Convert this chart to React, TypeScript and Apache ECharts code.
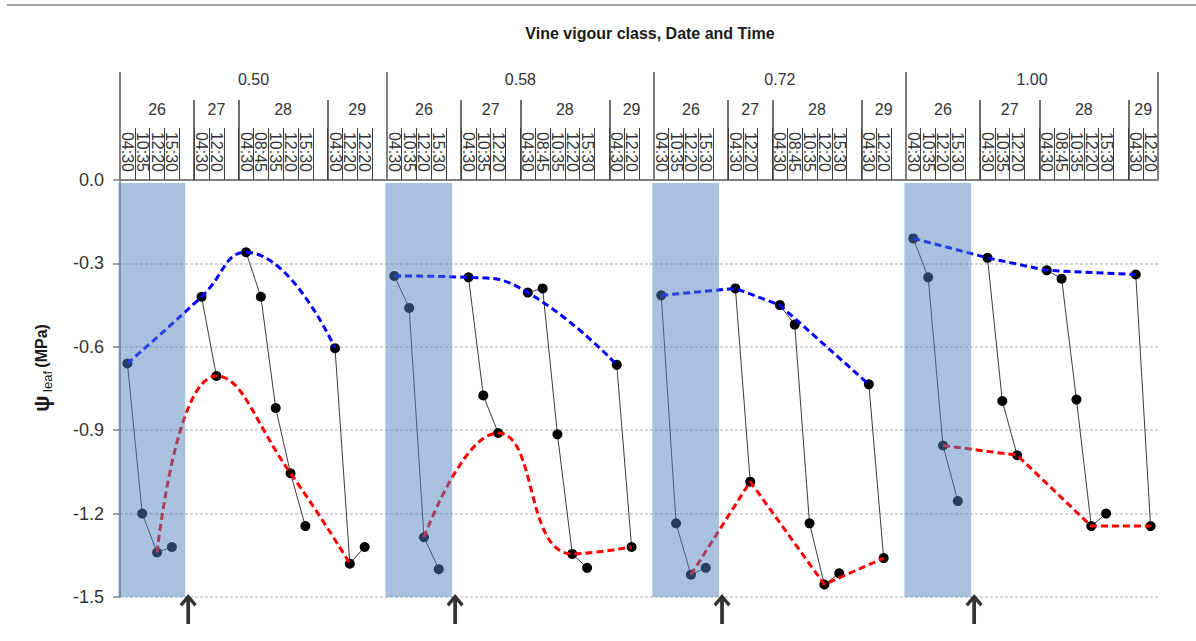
import * as echarts from 'echarts';
import { useEffect, useRef } from 'react';

const vigourClasses = ['0.50', '0.58', '0.72', '1.00'];
const days = ['26', '27', '28', '29'];
const shadedDay = '26';

// measurement times, one list per day
const times050 = [
    ['04:30', '10:35', '12:20', '15:30'],
    ['04:30', '12:20'],
    ['04:30', '08:45', '10:35', '12:20', '15:30'],
    ['04:30', '12:20', '12:20'],
];
const times058 = [
    ['04:30', '10:35', '12:20', '15:30'],
    ['04:30', '10:35', '12:20'],
    ['04:30', '08:45', '10:35', '12:20', '15:30'],
    ['04:30', '12:20'],
];
const times072 = [
    ['04:30', '10:35', '12:20', '15:30'],
    ['04:30', '12:20'],
    ['04:30', '08:45', '10:35', '12:20', '15:30'],
    ['04:30', '12:20'],
];
const times100 = [
    ['04:30', '10:35', '12:20', '15:30'],
    ['04:30', '10:35', '12:20'],
    ['04:30', '08:45', '10:35', '12:20', '15:30'],
    ['04:30', '12:20'],
];

// leaf water potential (MPa), same shape as the time lists
const psi050 = [
    [-0.66, -1.2, -1.34, -1.32],
    [-0.42, -0.705],
    [-0.26, -0.42, -0.82, -1.055, -1.245],
    [-0.605, -1.38, -1.32],
];
const psi058 = [
    [-0.345, -0.46, -1.285, -1.4],
    [-0.35, -0.775, -0.91],
    [-0.405, -0.39, -0.915, -1.345, -1.395],
    [-0.665, -1.32],
];
const psi072 = [
    [-0.415, -1.235, -1.42, -1.395],
    [-0.39, -1.085],
    [-0.45, -0.52, -1.235, -1.455, -1.415],
    [-0.735, -1.36],
];
const psi100 = [
    [-0.21, -0.35, -0.955, -1.155],
    [-0.28, -0.795, -0.99],
    [-0.325, -0.355, -0.79, -1.245, -1.2],
    [-0.34, -1.245],
];

const classTimes = [times050, times058, times072, times100];
const classPsi = [psi050, psi058, psi072, psi100];
const smoothClass = [true, true, false, false];

const FONT = "'Liberation Sans', Arial, sans-serif";

// lay the columns out: one per measurement, one empty column after each day
const columns: { time: string; value: number | null }[] = [];
const dayTicks = new Set<number>();
const classTicks = new Set<number>();
const dayLabelAt: [number, string][] = [];
const classLabelAt: [number, string][] = [];
const predawn: [number, number][][] = [];
const midday: [number, number][][] = [];
const shadeStarts: [number, number][] = [];

classTimes.forEach((dayTimes, ci) => {
    const classStart = columns.length;
    classTicks.add(classStart * 2);
    const pd: [number, number][] = [];
    const md: [number, number][] = [];
    dayTimes.forEach((times, di) => {
        const dayStart = columns.length;
        dayTicks.add(dayStart * 2);
        const noon = times.indexOf('12:20');
        times.forEach((t, ti) => {
            const v = classPsi[ci][di][ti];
            if (ti === 0) pd.push([columns.length, v]);
            if (ti === noon) md.push([columns.length, v]);
            columns.push({ time: t, value: v });
        });
        if (days[di] === shadedDay) shadeStarts.push([dayStart, dayStart + times.length]);
        const last = ci === classTimes.length - 1 && di === dayTimes.length - 1;
        if (!last) columns.push({ time: '', value: null });
        dayLabelAt.push([dayStart + columns.length, days[di]]);
    });
    classLabelAt.push([classStart + columns.length, vigourClasses[ci]]);
    predawn.push(pd);
    midday.push(md);
});
classTicks.add(columns.length * 2);

// header axes use half-column steps so that group centres fall on a category
const halfSteps = columns.length * 2 + 1;
const dayAxisData = Array.from({ length: halfSteps }, () => '');
dayLabelAt.forEach(([p, t]) => (dayAxisData[p] = t));
const classAxisData = Array.from({ length: halfSteps }, () => '');
classLabelAt.forEach(([p, t]) => (classAxisData[p] = t));

const arrowPath =
    'path://M9,0 L18,10 L15.5,12.5 L11,7.5 L11,30 L7,30 L7,7.5 L2.5,12.5 L0,10 Z';

const App = () => {
    const chartRef = useRef<HTMLDivElement>(null);

    useEffect(() => {
        if (!chartRef.current) return;
        const chart = echarts.init(chartRef.current, undefined, { renderer: 'svg' });

        const lineSeries: any[] = [];
        predawn.forEach((pts, ci) => {
            lineSeries.push({
                name: 'predawn ' + vigourClasses[ci],
                type: 'line',
                xAxisIndex: 0,
                data: pts,
                smooth: smoothClass[ci] ? 0.5 : false,
                symbol: 'none',
                lineStyle: { color: '#0000ff', width: 3, type: [7, 4] },
                z: 3,
            });
        });
        midday.forEach((pts, ci) => {
            lineSeries.push({
                name: 'midday ' + vigourClasses[ci],
                type: 'line',
                xAxisIndex: 0,
                data: pts,
                smooth: smoothClass[ci] ? 0.5 : false,
                symbol: 'none',
                lineStyle: { color: '#ff0000', width: 3, type: [7, 4] },
                z: 3,
            });
        });

        chart.setOption({
            animation: false,
            textStyle: { fontFamily: FONT },
            grid: { left: 120, right: 38, top: 180, bottom: 44, outerBoundsMode: 'none' },
            graphic: [
                {
                    type: 'line',
                    shape: { x1: 7, y1: 5, x2: 1196, y2: 5 },
                    style: { stroke: '#808080', lineWidth: 1.5 },
                },
                {
                    type: 'text',
                    x: 650,
                    y: 33,
                    style: {
                        text: 'Vine vigour class, Date and Time',
                        align: 'center',
                        verticalAlign: 'middle',
                        font: `bold 16px ${FONT}`,
                        fill: '#1a1a1a',
                    },
                },
                {
                    type: 'text',
                    x: 41,
                    y: 368,
                    rotation: Math.PI / 2,
                    style: {
                        text: '{psi|ψ} {sub|leaf} {b|(MPa)}',
                        align: 'center',
                        verticalAlign: 'middle',
                        fill: '#1a1a1a',
                        rich: {
                            psi: { fontSize: 22, fontWeight: 'bold', fontFamily: FONT, lineHeight: 26 },
                            sub: { fontSize: 13, fontFamily: FONT, verticalAlign: 'bottom', lineHeight: 26 },
                            b: { fontSize: 16, fontWeight: 'bold', fontFamily: FONT, lineHeight: 26 },
                        },
                    },
                },
            ],
            xAxis: [
                {
                    type: 'category',
                    position: 'top',
                    data: columns.map((c) => c.time),
                    boundaryGap: true,
                    axisLine: { show: true, onZero: false, lineStyle: { color: '#7f7f7f', width: 2 } },
                    axisTick: { show: true, interval: 0, length: 52, lineStyle: { color: '#404040', width: 1 } },
                    axisLabel: {
                        interval: 0,
                        rotate: 90,
                        margin: 8,
                        fontSize: 16,
                        color: '#333',
                        hideOverlap: false,
                    },
                    splitLine: { show: false },
                },
                {
                    type: 'value',
                    position: 'top',
                    min: 0,
                    max: columns.length,
                    show: false,
                },
                {
                    type: 'category',
                    position: 'top',
                    offset: 0,
                    boundaryGap: false,
                    data: dayAxisData,
                    axisLine: { show: false, onZero: false },
                    axisTick: {
                        show: true,
                        interval: (i: number) => dayTicks.has(i),
                        length: 80,
                        lineStyle: { color: '#404040', width: 1.5 },
                    },
                    axisLabel: { interval: 0, margin: 63, fontSize: 16, color: '#333', hideOverlap: false },
                    splitLine: { show: false },
                },
                {
                    type: 'category',
                    position: 'top',
                    offset: 0,
                    boundaryGap: false,
                    data: classAxisData,
                    axisLine: { show: false, onZero: false },
                    axisTick: {
                        show: true,
                        interval: (i: number) => classTicks.has(i),
                        length: 108,
                        lineStyle: { color: '#7f7f7f', width: 2 },
                    },
                    axisLabel: { interval: 0, margin: 93, fontSize: 16, color: '#333', hideOverlap: false },
                    splitLine: { show: false },
                },
            ],
            yAxis: {
                type: 'value',
                min: -1.5,
                max: 0,
                interval: 0.3,
                axisLine: { show: true, onZero: false, lineStyle: { color: '#7f7f7f', width: 1.5 } },
                axisTick: { show: true, length: 7, lineStyle: { color: '#7f7f7f', width: 1.5 } },
                axisLabel: {
                    formatter: (v: number) => v.toFixed(1),
                    fontSize: 18,
                    color: '#333',
                    margin: 16,
                },
                splitLine: { show: true, lineStyle: { color: '#c8c8c8', type: [3, 2], width: 1.5 } },
            },
            series: [
                {
                    name: 'psi',
                    type: 'line',
                    xAxisIndex: 0,
                    data: columns.map((c) => c.value),
                    connectNulls: false,
                    symbol: 'circle',
                    symbolSize: 10,
                    itemStyle: { color: '#000' },
                    lineStyle: { color: '#3a3a3a', width: 1 },
                    z: 2,
                },
                ...lineSeries,
                {
                    name: 'shade',
                    type: 'custom',
                    xAxisIndex: 1,
                    silent: true,
                    z: 4,
                    data: shadeStarts.map(([s, e]) => [s - 0.1, e + 0.4, 0, -1.5]),
                    encode: { x: [0, 1], y: [2, 3] },
                    renderItem: (_p: any, api: any) => {
                        const a = api.coord([api.value(0), api.value(2)]);
                        const b = api.coord([api.value(1), api.value(3)]);
                        return {
                            type: 'rect',
                            shape: { x: a[0], y: a[1] + 3, width: b[0] - a[0], height: b[1] - a[1] - 3 },
                            style: { fill: 'rgba(79,129,189,0.49)' },
                        };
                    },
                },
                {
                    name: 'arrows',
                    type: 'scatter',
                    xAxisIndex: 1,
                    clip: false,
                    data: shadeStarts.map(([, e]) => [e + 0.6, -1.5]),
                    symbol: arrowPath,
                    symbolSize: [17, 30],
                    symbolOffset: [0, 12],
                    itemStyle: { color: '#000' },
                    z: 5,
                },
            ],
        });

        const onResize = () => chart.resize();
        window.addEventListener('resize', onResize);
        return () => {
            window.removeEventListener('resize', onResize);
            chart.dispose();
        };
    }, []);

    return (
        <div
            ref={chartRef}
            style={{ position: 'fixed', left: 0, top: 0, width: 1196, height: 641, background: '#fff' }}
        />
    );
};

export default App;
